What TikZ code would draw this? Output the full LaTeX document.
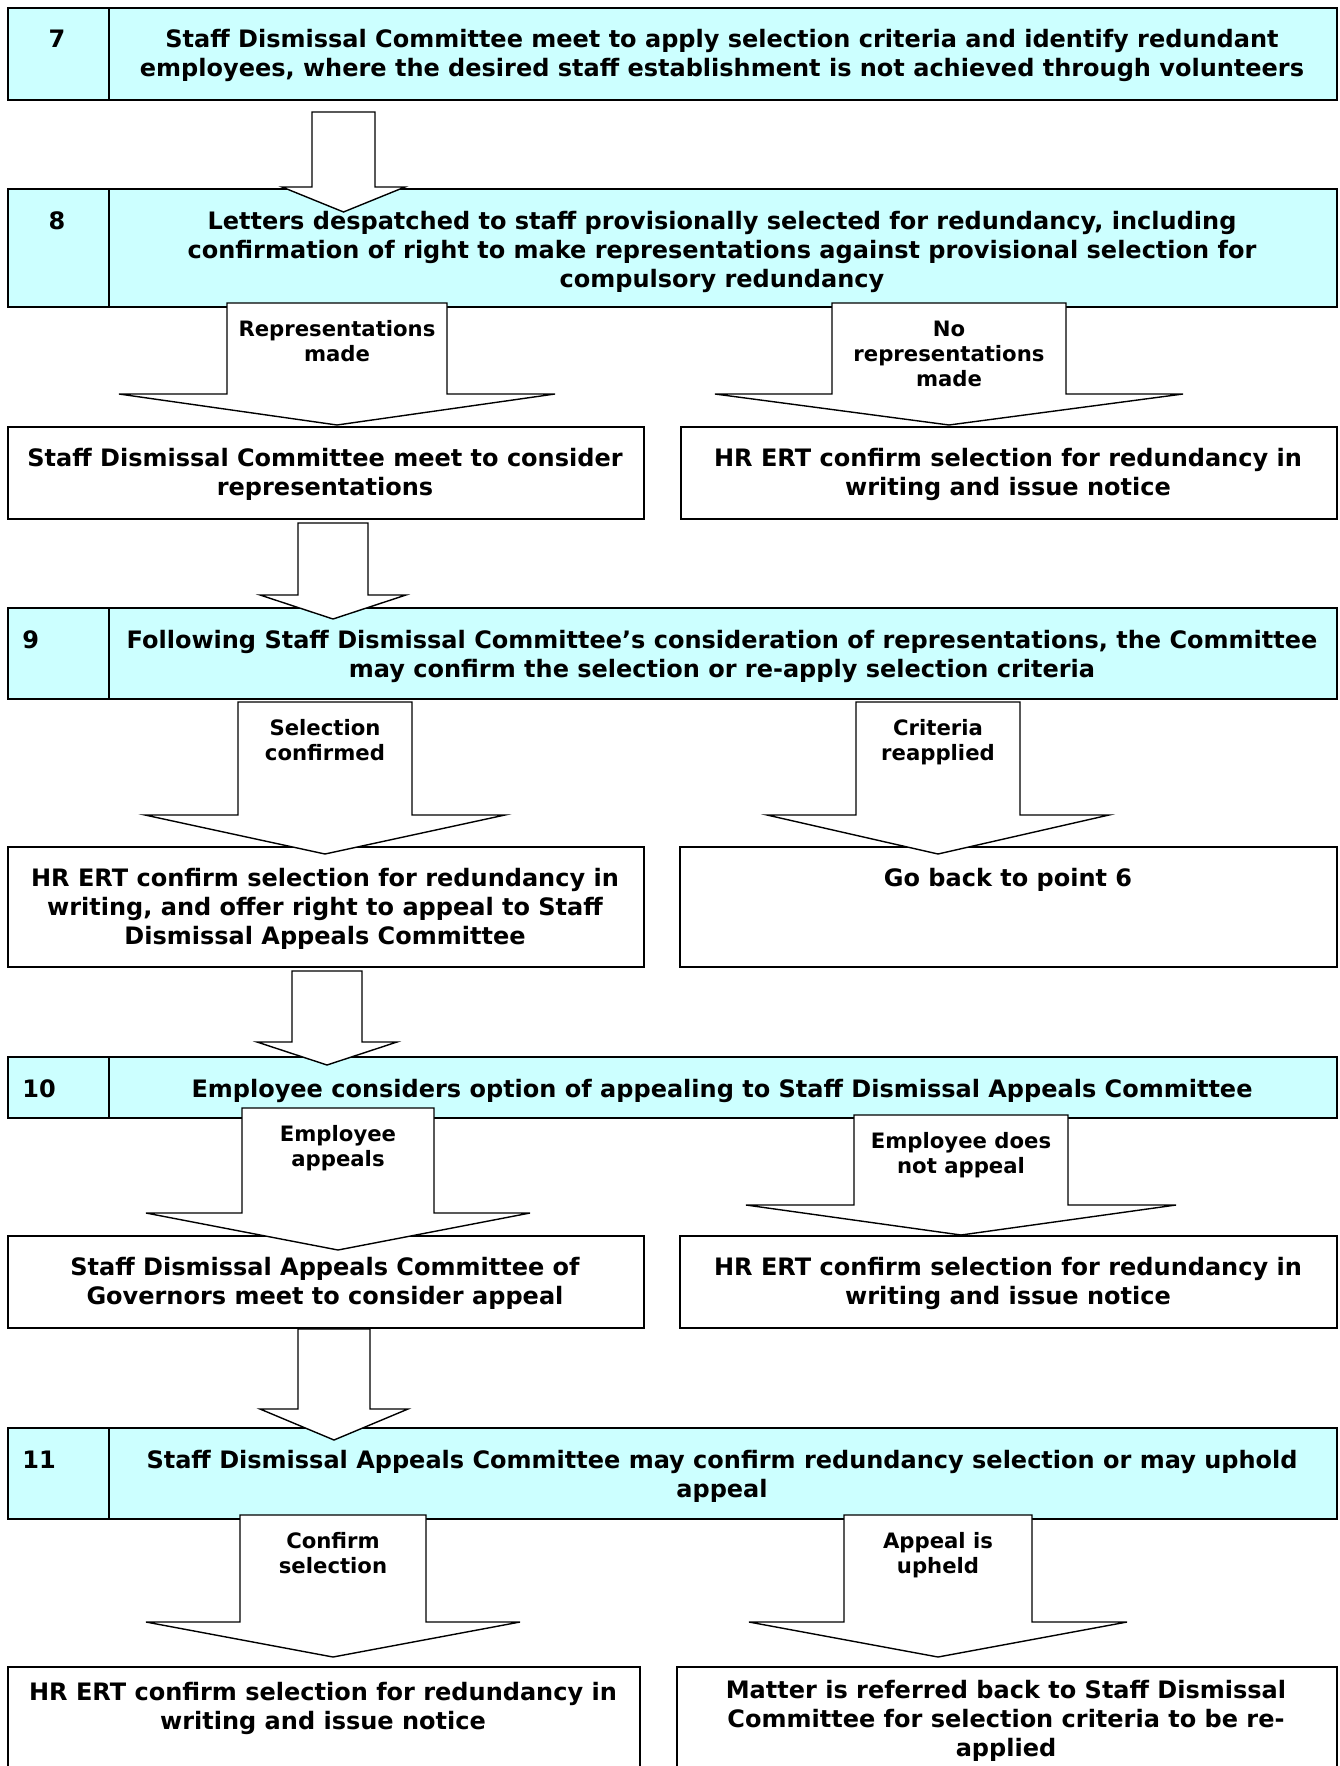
\documentclass[tikz,border=0pt]{standalone}
\usepackage{fontspec}
\setmainfont{DejaVu Sans}
\usepackage{tikz}
\definecolor{stepCyan}{RGB}{204, 255, 255}
\usetikzlibrary{calc}

\tikzset{
    stepcell/.style={rectangle, draw=black, line width=1pt, fill=stepCyan, anchor=north west, inner sep=0pt},
    outcomebox/.style={rectangle, draw=black, line width=1pt, fill=white, anchor=north west, inner sep=0pt},
    boxtext/.style={anchor=base, align=center, inner sep=0pt, font=\fontsize{12}{14.5}\selectfont\bfseries},
    numtext/.style={inner sep=0pt, font=\fontsize{12}{14.5}\selectfont\bfseries},
    armlabel/.style={anchor=base, align=center, inner sep=0pt, font=\fontsize{10.6}{12.5}\selectfont\bfseries},
    blockarrow/.style={draw=black, line width=0.7pt, fill=white, line join=miter}
}

% box from (x1,y1) to (x2,y2), in pixels of the page
\newcommand{\boxat}[6]{%
    \node[#1, minimum width={(#5-#3)*0.5pt}, minimum height={(#6-#4)*0.5pt}] (#2) at (#3,#4) {};
}
% block arrow: centre x, top, half shaft, head base, half head, tip
\newcommand{\flowarrow}[6]{%
    \draw[blockarrow] (#1-#3,#2) -- (#1+#3,#2) -- (#1+#3,#4) -- (#1+#5,#4)
        -- (#1,#6) -- (#1-#5,#4) -- (#1-#3,#4) -- cycle;
}

\begin{document}
\begin{tikzpicture}[x=0.5pt, y=-0.5pt]
    \useasboundingbox (0,0) rectangle (1339,1766);

    % numbered steps
    \boxat{stepcell}{s7num}{7}{7}{108}{99}
    \boxat{stepcell}{s7}{108}{7}{1336}{99}
    \boxat{stepcell}{s8num}{7}{188}{108}{306}
    \boxat{stepcell}{s8}{108}{188}{1336}{306}
    \boxat{stepcell}{s9num}{7}{607}{108}{698}
    \boxat{stepcell}{s9}{108}{607}{1336}{698}
    \boxat{stepcell}{s10num}{7}{1056}{108}{1117}
    \boxat{stepcell}{s10}{108}{1056}{1336}{1117}
    \boxat{stepcell}{s11num}{7}{1427}{108}{1518}
    \boxat{stepcell}{s11}{108}{1427}{1336}{1518}

    % outcomes
    \boxat{outcomebox}{repMeet}{7}{426}{643}{518}
    \boxat{outcomebox}{noRep}{680}{426}{1336}{518}
    \boxat{outcomebox}{offerAppeal}{7}{846}{643}{966}
    \boxat{outcomebox}{backSix}{679}{846}{1336}{966}
    \boxat{outcomebox}{appealMeet}{7}{1235}{643}{1327}
    \boxat{outcomebox}{noAppeal}{679}{1235}{1336}{1327}
    \boxat{outcomebox}{finalNotice}{7}{1666}{639}{1800}
    \boxat{outcomebox}{referBack}{676}{1666}{1336}{1800}

    % arrows
    \flowarrow{343.5}{112}{31.5}{187}{61.5}{212}
    \flowarrow{337}{303}{110}{394}{218}{425}
    \flowarrow{949}{303}{117}{394}{234}{425}
    \flowarrow{333}{523}{35}{595}{73}{619}
    \flowarrow{325}{702}{87}{815}{180}{854}
    \flowarrow{938}{702}{82}{815}{171}{854}
    \flowarrow{327}{971}{35}{1042}{70}{1065}
    \flowarrow{338}{1108}{96}{1213}{192}{1250}
    \flowarrow{961}{1115}{107}{1205}{215}{1235}
    \flowarrow{334}{1329}{36}{1409}{74}{1440}
    \flowarrow{333}{1515}{93}{1622}{187}{1657}
    \flowarrow{938}{1515}{94}{1622}{189}{1657}

    % labels sit on the baseline of their last line
    \node[armlabel] (lbRep) at (337,361) {Representations\\made};
    \node[armlabel] (lbNoRep) at (949,386) {No\\representations\\made};
    \node[armlabel] (lbConfirmed) at (325,760) {Selection\\confirmed};
    \node[armlabel] (lbReapplied) at (938,760) {Criteria\\reapplied};
    \node[armlabel] (lbAppeals) at (338,1166) {Employee\\appeals};
    \node[armlabel] (lbNoAppeal) at (961,1173) {Employee does\\not appeal};
    \node[armlabel] (lbConfirm) at (333,1573) {Confirm\\selection};
    \node[armlabel] (lbUpheld) at (938,1573) {Appeal is\\upheld};

    % texts
    \node[numtext, anchor=base] (n7) at (57,48) {7};
    \node[numtext, anchor=base] (n8) at (57,229) {8};
    \node[numtext, anchor=base west] (n9) at (22,648) {9};
    \node[numtext, anchor=base west] (n10) at (22,1097) {10};
    \node[numtext, anchor=base west] (n11) at (22,1468) {11};

    \node[boxtext] (t7) at (722,77) {Staff Dismissal Committee meet to apply selection criteria and identify redundant\\employees, where the desired staff establishment is not achieved through volunteers};
    \node[boxtext] (t8) at (722,287) {Letters despatched to staff provisionally selected for redundancy, including\\confirmation of right to make representations against provisional selection for\\compulsory redundancy};
    \node[boxtext] (t9) at (722,677) {Following Staff Dismissal Committee’s consideration of representations, the Committee\\may confirm the selection or re-apply selection criteria};
    \node[boxtext] (t10) at (722,1097) {Employee considers option of appealing to Staff Dismissal Appeals Committee};
    \node[boxtext] (t11) at (722,1497) {Staff Dismissal Appeals Committee may confirm redundancy selection or may uphold\\appeal};

    \node[boxtext] (tRepMeet) at (325,495) {Staff Dismissal Committee meet to consider\\representations};
    \node[boxtext] (tNoRep) at (1008,495) {HR ERT confirm selection for redundancy in\\writing and issue notice};
    \node[boxtext] (tOfferAppeal) at (325,944) {HR ERT confirm selection for redundancy in\\writing, and offer right to appeal to Staff\\Dismissal Appeals Committee};
    \node[boxtext] (tBackSix) at (1008,886) {Go back to point 6};
    \node[boxtext] (tAppealMeet) at (325,1304) {Staff Dismissal Appeals Committee of\\Governors meet to consider appeal};
    \node[boxtext] (tNoAppeal) at (1008,1304) {HR ERT confirm selection for redundancy in\\writing and issue notice};
    \node[boxtext] (tFinal) at (323,1729) {HR ERT confirm selection for redundancy in\\writing and issue notice};
    \node[boxtext] (tReferBack) at (1006,1756) {Matter is referred back to Staff Dismissal\\Committee for selection criteria to be re-\\applied};
\end{tikzpicture}
\end{document}
